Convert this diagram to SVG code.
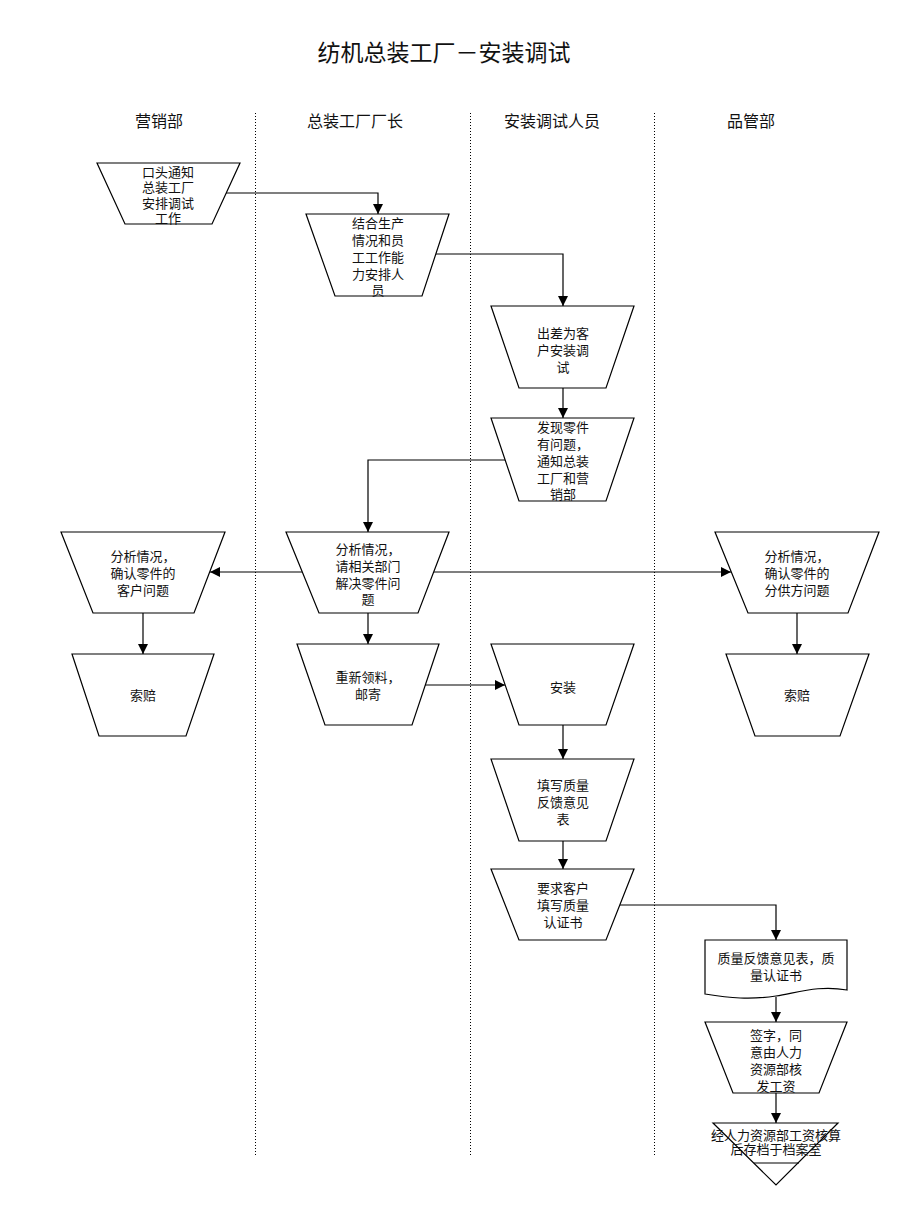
<svg xmlns="http://www.w3.org/2000/svg" width="920" height="1227" viewBox="0 0 920 1227">
<style>
.bg{fill:#fff}
.shape{fill:#fff;stroke:#000;stroke-width:1.2}
.t{font-family:"Liberation Serif","Noto Sans CJK SC",serif;font-size:13px;fill:#111;text-anchor:middle}
.h{font-family:"Liberation Serif","Noto Sans CJK SC",serif;font-size:16px;fill:#111;text-anchor:middle}
.title{font-family:"Liberation Serif","Noto Sans CJK SC",serif;font-size:23px;fill:#111;text-anchor:middle}
.div{stroke:#000;stroke-width:1;stroke-dasharray:1 2;fill:none}
.c{stroke:#000;stroke-width:1.2;fill:none;marker-end:url(#ah)}
</style>
<defs>
<marker id="ah" viewBox="0 0 10 10" refX="10" refY="5" markerWidth="10" markerHeight="10" markerUnits="userSpaceOnUse" orient="auto">
<path d="M0,0 L10,5 L0,10 z" fill="#000"/>
</marker>
</defs>
<rect class="bg" x="0" y="0" width="920" height="1227"/>
<text class="title" x="444" y="61">纺机总装工厂－安装调试</text>
<g id="headers">
<text class="h" x="159" y="127">营销部</text>
<text class="h" x="355" y="127">总装工厂厂长</text>
<text class="h" x="552" y="127">安装调试人员</text>
<text class="h" x="751" y="127">品管部</text>
</g>
<g id="dividers">
<line class="div" x1="255.5" y1="113" x2="255.5" y2="1155"/>
<line class="div" x1="470.5" y1="113" x2="470.5" y2="1155"/>
<line class="div" x1="654.5" y1="113" x2="654.5" y2="1155"/>
</g>
<g id="connectors">
<path class="c" d="M226,193 H378 V214"/>
<path class="c" d="M436,254 H563 V306"/>
<path class="c" d="M563,388 V418"/>
<path class="c" d="M505,460 H368 V532"/>
<path class="c" d="M302,572 H210"/>
<path class="c" d="M434,572 H731"/>
<path class="c" d="M143,613 V654"/>
<path class="c" d="M797,613 V654"/>
<path class="c" d="M368,613 V644"/>
<path class="c" d="M425,685 H505"/>
<path class="c" d="M563,725 V759"/>
<path class="c" d="M563,841 V869"/>
<path class="c" d="M620,905 H776 V940"/>
<path class="c" d="M776,997 V1022"/>
<path class="c" d="M776,1093 V1123"/>
</g>
<g id="n1">
<polygon class="shape" points="97,163 240,163 212,224 125,224"/>
<text class="t" x="168" y="176.5">口头通知</text>
<text class="t" x="168" y="192">总装工厂</text>
<text class="t" x="168" y="207.5">安排调试</text>
<text class="t" x="168" y="223">工作</text>
</g>
<g id="n2">
<polygon class="shape" points="306,214 449,214 422,296 335,296"/>
<text class="t" x="378" y="228">结合生产</text>
<text class="t" x="378" y="245">情况和员</text>
<text class="t" x="378" y="262">工工作能</text>
<text class="t" x="378" y="279">力安排人</text>
<text class="t" x="378" y="295">员</text>
</g>
<g id="n3">
<polygon class="shape" points="491,306 634,306 606,388 519,388"/>
<text class="t" x="563" y="337.5">出差为客</text>
<text class="t" x="563" y="354.5">户安装调</text>
<text class="t" x="563" y="371.5">试</text>
</g>
<g id="n4">
<polygon class="shape" points="491,418 634,418 606,501 519,501"/>
<text class="t" x="563" y="431.5">发现零件</text>
<text class="t" x="563" y="448.5">有问题，</text>
<text class="t" x="563" y="465.5">通知总装</text>
<text class="t" x="563" y="482.5">工厂和营</text>
<text class="t" x="563" y="498.5">销部</text>
</g>
<g id="n5">
<polygon class="shape" points="286,532 449,532 418,613 319,613"/>
<text class="t" x="368" y="553.5">分析情况，</text>
<text class="t" x="368" y="570.5">请相关部门</text>
<text class="t" x="368" y="587.5">解决零件问</text>
<text class="t" x="368" y="603.5">题</text>
</g>
<g id="n6">
<polygon class="shape" points="61,532 225,532 194,613 93,613"/>
<text class="t" x="143" y="560.5">分析情况，</text>
<text class="t" x="143" y="577.5">确认零件的</text>
<text class="t" x="143" y="594.5">客户问题</text>
</g>
<g id="n7">
<polygon class="shape" points="715,532 879,532 848,613 748,613"/>
<text class="t" x="797" y="560.5">分析情况，</text>
<text class="t" x="797" y="577.5">确认零件的</text>
<text class="t" x="797" y="594.5">分供方问题</text>
</g>
<g id="n8">
<polygon class="shape" points="72,654 214,654 186,736 99,736"/>
<text class="t" x="143" y="699.5">索赔</text>
</g>
<g id="n9">
<polygon class="shape" points="726,654 869,654 840,736 755,736"/>
<text class="t" x="797" y="699.5">索赔</text>
</g>
<g id="n10">
<polygon class="shape" points="297,644 439,644 412,725 325,725"/>
<text class="t" x="368" y="681.5">重新领料，</text>
<text class="t" x="368" y="698.5">邮寄</text>
</g>
<g id="n11">
<polygon class="shape" points="491,644 634,644 606,725 519,725"/>
<text class="t" x="563" y="691.5">安装</text>
</g>
<g id="n12">
<polygon class="shape" points="491,759 634,759 606,841 519,841"/>
<text class="t" x="563" y="789.5">填写质量</text>
<text class="t" x="563" y="806.5">反馈意见</text>
<text class="t" x="563" y="823.5">表</text>
</g>
<g id="n13">
<polygon class="shape" points="491,869 634,869 606,940 519,940"/>
<text class="t" x="563" y="892.5">要求客户</text>
<text class="t" x="563" y="909.5">填写质量</text>
<text class="t" x="563" y="926.5">认证书</text>
</g>
<g id="n14">
<path class="shape" d="M705,940 H847 V990 C820,985 800,992 776,996 C750,1000 730,998 705,994 Z"/>
<text class="t" x="776" y="962.5">质量反馈意见表，质</text>
<text class="t" x="776" y="979.5">量认证书</text>
</g>
<g id="n15">
<polygon class="shape" points="705,1022 847,1022 819,1093 733,1093"/>
<text class="t" x="776" y="1039.5">签字，同</text>
<text class="t" x="776" y="1056.5">意由人力</text>
<text class="t" x="776" y="1073.5">资源部核</text>
<text class="t" x="776" y="1090.5">发工资</text>
</g>
<g id="n16">
<polygon class="shape" points="713,1123 838,1123 776,1185"/>
<line x1="754" y1="1163" x2="799" y2="1163" stroke="#000" stroke-width="1.2"/>
<text class="t" x="776" y="1139.5">经人力资源部工资核算</text>
<text class="t" x="776" y="1154">后存档于档案室</text>
</g>
</svg>
